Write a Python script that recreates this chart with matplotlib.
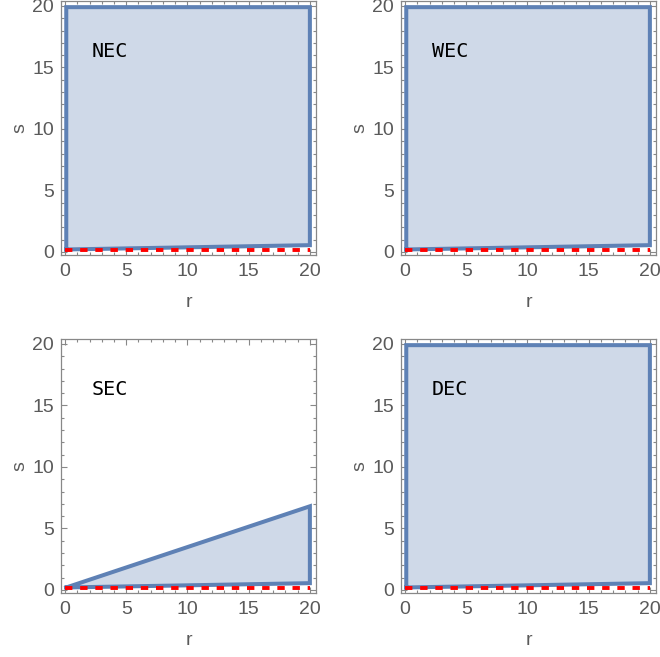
import numpy as np
import matplotlib.pyplot as plt
from matplotlib.ticker import MultipleLocator

# boundary of each allowed region in (r, s)
full_r = [0.1, 0.1, 20.0, 20.0, 0.1]
full_s = [0.2, 19.9, 19.9, 0.55, 0.2]
sec_r = [0.1, 20.0, 20.0, 0.1]
sec_s = [0.2, 6.8, 0.55, 0.2]

# horizon line (red dashed)
hor_r = [0.0, 20.0]
hor_s = [0.12, 0.12]

panels = [
    ("NEC", full_r, full_s),
    ("WEC", full_r, full_s),
    ("SEC", sec_r, sec_s),
    ("DEC", full_r, full_s),
]

fill_c = "#cfd9e8"
edge_c = "#5e81b5"
tick_c = "#5a5a5a"

fig = plt.figure(figsize=(6.6, 6.57), dpi=100)
W, H = 660, 657
boxes = [(61, 1), (401, 1), (61, 339), (401, 339)]
bw, bh = 255, 254

for (name, r, s), (x0, y0) in zip(panels, boxes):
    ax = fig.add_axes([x0 / W, 1 - (y0 + bh) / H, bw / W, bh / H])
    ax.fill(r, s, color=fill_c, lw=0)
    ax.plot(r, s, color=edge_c, lw=2.9, solid_joinstyle="miter")
    ax.plot(hor_r, hor_s, color="red", lw=2.8, ls=(0, (1.9, 2.0)))
    ax.set_xlim(-0.33, 20.5)
    ax.set_ylim(-0.25, 20.4)
    ax.xaxis.set_major_locator(MultipleLocator(5))
    ax.yaxis.set_major_locator(MultipleLocator(5))
    ax.xaxis.set_minor_locator(MultipleLocator(1))
    ax.yaxis.set_minor_locator(MultipleLocator(1))
    ax.tick_params(which="both", direction="in", top=True, right=True,
                   color="#888888", width=0.8, labelcolor=tick_c,
                   labelsize=14, labelfontfamily="Liberation Sans")
    ax.tick_params(axis="x", pad=6)
    ax.tick_params(axis="y", pad=5)
    ax.tick_params(which="major", length=4.5)
    ax.tick_params(which="minor", length=2.5)
    for sp in ax.spines.values():
        sp.set_color("#888888")
        sp.set_linewidth(0.9)
    ax.set_xlabel("r", color=tick_c, fontsize=14, family="Liberation Sans",
                  labelpad=10)
    ax.set_ylabel("s", color=tick_c, fontsize=14, family="Liberation Sans",
                  labelpad=3)
    ax.text(2.2, 16.3, name, family="DejaVu Sans Mono", fontsize=14.5,
            color="black", va="center")

fig.savefig("out.png", dpi=100)
